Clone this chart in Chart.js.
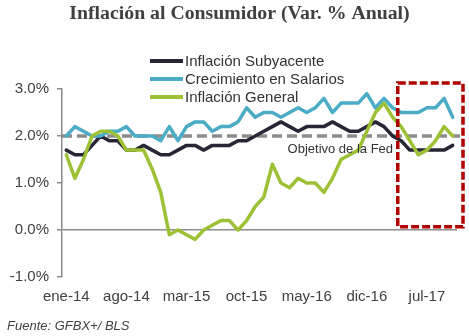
<!DOCTYPE html>
<html><head><meta charset="utf-8">
<script src="https://cdn.jsdelivr.net/npm/chart.js@4.4.1/dist/chart.umd.min.js"></script>
<style>html,body{margin:0;padding:0;background:#fff}canvas{display:block}</style>
</head><body>
<canvas id="c" width="469" height="336"></canvas>
<script>
// ---------- DATA ----------
const months = [
  'ene-14','feb-14','mar-14','abr-14','may-14','jun-14','jul-14','ago-14','sep-14','oct-14','nov-14','dic-14',
  'ene-15','feb-15','mar-15','abr-15','may-15','jun-15','jul-15','ago-15','sep-15','oct-15','nov-15','dic-15',
  'ene-16','feb-16','mar-16','abr-16','may-16','jun-16','jul-16','ago-16','sep-16','oct-16','nov-16','dic-16',
  'ene-17','feb-17','mar-17','abr-17','may-17','jun-17','jul-17','ago-17','sep-17','oct-17'
];
const xTickLabels = ['ene-14','ago-14','mar-15','oct-15','may-16','dic-16','jul-17'];
const yTickValues = [-1, 0, 1, 2, 3];

const inflacionSubyacente = [
  1.7,1.6,1.6,1.8,2.0,1.9,1.9,1.7,1.7,1.8,1.7,1.6,
  1.6,1.7,1.8,1.8,1.7,1.8,1.8,1.8,1.9,1.9,2.0,2.1,
  2.2,2.3,2.2,2.1,2.2,2.2,2.2,2.3,2.2,2.1,2.1,2.2,
  2.3,2.2,2.0,1.9,1.7,1.7,1.7,1.7,1.7,1.8
];
const crecimientoSalarios = [
  2.0,2.2,2.1,2.0,2.0,2.1,2.1,2.2,2.0,2.0,2.0,1.9,
  2.2,1.9,2.2,2.3,2.3,2.1,2.2,2.2,2.3,2.6,2.4,2.5,
  2.5,2.4,2.5,2.6,2.5,2.6,2.8,2.5,2.7,2.7,2.7,2.9,
  2.6,2.8,2.6,2.5,2.5,2.5,2.6,2.6,2.8,2.4
];
const inflacionGeneral = [
  1.6,1.1,1.5,2.0,2.1,2.1,2.0,1.7,1.7,1.7,1.3,0.8,
  -0.1,0.0,-0.1,-0.2,0.0,0.1,0.2,0.2,0.0,0.2,0.5,0.7,
  1.4,1.0,0.9,1.1,1.0,1.0,0.8,1.1,1.5,1.6,1.7,2.1,
  2.5,2.7,2.4,2.2,1.9,1.6,1.7,1.9,2.2,2.0
];
const objetivoFed = 2.0;
const seriesNames = ['Inflación Subyacente','Crecimiento en Salarios','Inflación General'];

// ---------- STYLE ----------
const COLORS = ['#262636','#4BACC6','#9DC134'];
const SANS = "'Liberation Sans', Arial, sans-serif";
const TXT = '#404040';
const AXIS = '#8C8C8C';
// highlight box (annotation) expressed in scale units
const highlight = { from: 38.6, to: 46.2, low: 0.07, high: 3.13 };

const overlay = {
  id: 'overlay',
  beforeDatasetsDraw(chart) {
    const {ctx, chartArea: a, scales: {y}} = chart;
    const py = y.getPixelForValue(objetivoFed);
    ctx.save();
    ctx.strokeStyle = AXIS; ctx.lineWidth = 3.5; ctx.setLineDash([10,5]);
    ctx.beginPath(); ctx.moveTo(a.left, py); ctx.lineTo(a.right + 3, py); ctx.stroke();
    ctx.restore();
  },
  afterDatasetsDraw(chart) {
    const {ctx, scales: {x, y}} = chart;
    ctx.save();
    // Fed label
    ctx.font = "13px " + SANS; ctx.fillStyle = '#333'; ctx.textBaseline = 'middle'; ctx.textAlign = 'left';
    ctx.fillText('Objetivo de la Fed', x.getPixelForValue(26) - 2, y.getPixelForValue(objetivoFed) + 13);
    // red dashed box
    const l = x.getPixelForValue(highlight.from), r = x.getPixelForValue(highlight.to);
    const t = y.getPixelForValue(highlight.high), b = y.getPixelForValue(highlight.low);
    ctx.strokeStyle = '#B00000'; ctx.lineWidth = 3.5; ctx.setLineDash([8,3]);
    ctx.strokeRect(l, t, r - l, b - t);
    ctx.setLineDash([]);
    // legend
    chart.data.datasets.forEach((ds, i) => {
      const cy = 61 + i * 18;
      ctx.strokeStyle = ds.borderColor; ctx.lineWidth = 4; ctx.lineCap = 'butt';
      ctx.beginPath(); ctx.moveTo(150, cy); ctx.lineTo(183, cy); ctx.stroke();
      ctx.font = "15px " + SANS; ctx.fillStyle = '#333'; ctx.textAlign = 'left'; ctx.textBaseline = 'middle';
      ctx.fillText(ds.label, 185, cy + 1);
    });
    // title
    ctx.font = "bold 19.8px 'Liberation Serif', 'Times New Roman', serif";
    ctx.fillStyle = TXT; ctx.textAlign = 'center'; ctx.textBaseline = 'middle';
    ctx.fillText('Inflación al Consumidor (Var. % Anual)', 239.5, 14);
    // source
    ctx.font = "italic 13px " + SANS; ctx.textAlign = 'left';
    ctx.fillText('Fuente: GFBX+/ BLS', 7, 326);
    ctx.restore();
  }
};

const values = [inflacionSubyacente, crecimientoSalarios, inflacionGeneral];
new Chart(document.getElementById('c'), {
  type: 'line',
  data: {
    labels: months,
    datasets: values.map((v, i) => ({
      label: seriesNames[i], data: v, borderColor: COLORS[i], backgroundColor: COLORS[i],
      borderWidth: 3.5, pointRadius: 0, tension: 0, order: 2 - i,
      borderJoinStyle: 'round', borderCapStyle: 'round'
    }))
  },
  options: {
    responsive: false, animation: false,
    layout: { padding: { top: 89, right: 12, bottom: 0, left: 0 } },
    plugins: { legend: { display: false }, title: { display: false }, tooltip: { enabled: false } },
    scales: {
      x: {
        type: 'category', offset: true,
        grid: { display: false, drawTicks: false }, border: { display: false },
        ticks: {
          autoSkip: false, maxRotation: 0, padding: 11, color: TXT,
          font: { family: SANS, size: 15 },
          callback(v, i) { const l = months[i]; return xTickLabels.includes(l) ? l : null; }
        },
        afterFit(s) { s.height = 59; }
      },
      y: {
        min: -1, max: 3,
        afterBuildTicks(s) { s.ticks = yTickValues.map(v => ({ value: v })); },
        grid: {
          color: c => (c.tick && c.tick.value === 0) ? AXIS : 'rgba(0,0,0,0)',
          lineWidth: 1.5, drawTicks: true, tickLength: 5, tickColor: AXIS, tickWidth: 1.5
        },
        border: { display: true, color: AXIS, width: 1.5 },
        ticks: { padding: 8, color: TXT, font: { family: SANS, size: 15 },
          callback: v => v.toFixed(1) + '%' },
        afterFit(s) { s.width = 62; }
      }
    }
  },
  plugins: [overlay]
});
</script>
</body></html>
